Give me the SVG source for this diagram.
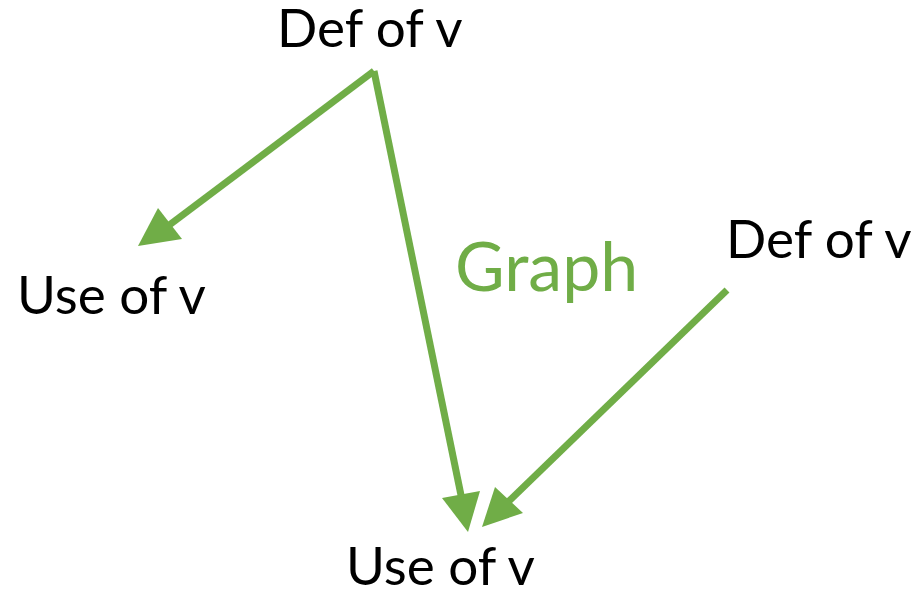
<svg xmlns="http://www.w3.org/2000/svg" width="913" height="591" viewBox="0 0 913 591">
  <style>
    .lbl { font-family: Lato, "Open Sans", "Liberation Sans", sans-serif; font-size: 53px; fill: #000; }
    .title { font-family: Lato, "Open Sans", "Liberation Sans", sans-serif; font-size: 68px; fill: #70AD47; }
    .edge { stroke: #70AD47; stroke-width: 7; fill: none; }
    .head { fill: #70AD47; }
  </style>
  <rect width="913" height="591" fill="#fff"/>

  <g id="def-top"><text class="lbl" x="277" y="47">Def of v</text></g>
  <g id="use-left"><text class="lbl" x="17" y="314">Use of v</text></g>
  <g id="def-right"><text class="lbl" x="726" y="258">Def of v</text></g>
  <g id="use-bottom"><text class="lbl" x="346" y="585">Use of v</text></g>
  <g id="graph-label"><text class="title" x="455" y="291">Graph</text></g>

  <g id="connectors">
    <!-- top def to left use -->
    <line class="edge" x1="374" y1="71" x2="168" y2="226"/>
    <polygon class="head" points="138,246 158,208 182,239"/>
    <!-- top def to bottom use -->
    <line class="edge" x1="374" y1="71" x2="462" y2="500"/>
    <polygon class="head" points="468,532 442,498 480,491"/>
    <!-- right def to bottom use -->
    <line class="edge" x1="727" y1="290" x2="508" y2="502"/>
    <polygon class="head" points="482,527 495,487 523,513"/>
  </g>
</svg>
